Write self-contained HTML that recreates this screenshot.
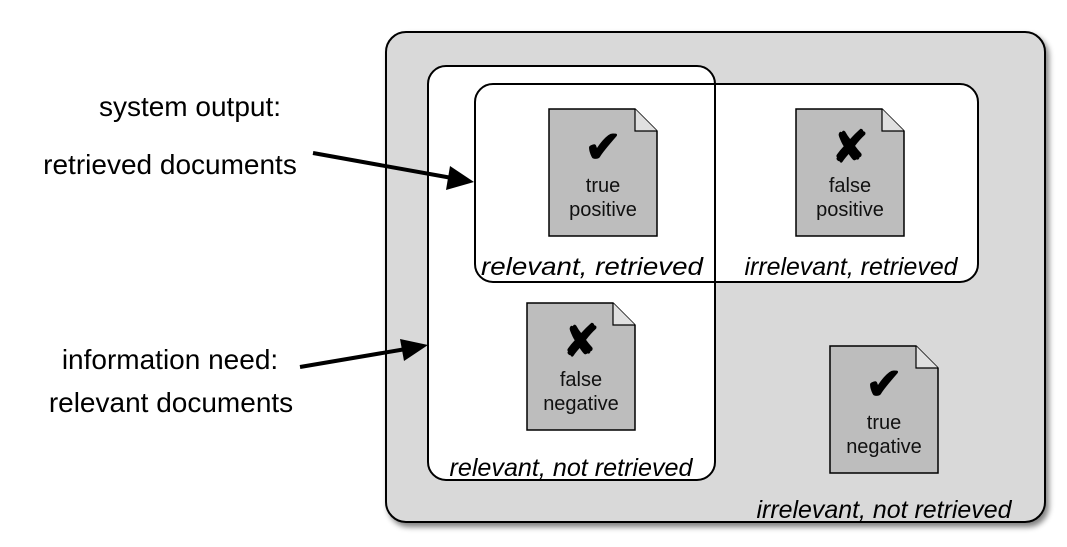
<!DOCTYPE html>
<html><head><style>
body{margin:0;width:1067px;height:542px;background:#fff;overflow:hidden}
text{font-family:"Liberation Sans",Arial,sans-serif}
</style></head><body>
<svg width="1067" height="542" viewBox="0 0 1067 542">
<defs>
<filter id="sh" x="-5%" y="-5%" width="115%" height="115%"><feGaussianBlur in="SourceAlpha" stdDeviation="3"/><feOffset dx="3" dy="4"/><feComponentTransfer><feFuncA type="linear" slope="0.5"/></feComponentTransfer><feMerge><feMergeNode/><feMergeNode in="SourceGraphic"/></feMerge></filter>
<g id="doc">
<path d="M0,0 H86 L108,22 V127 H0Z" fill="#bdbdbd" stroke="#000" stroke-width="1.5"/>
<path d="M86,0 V22 H108" fill="#e0e0e0" stroke="#000" stroke-width="1.2"/>
</g>
</defs>
<rect x="386" y="32" width="659" height="490" rx="20" fill="#d9d9d9" stroke="#000" stroke-width="2" filter="url(#sh)"/>
<rect x="428" y="66" width="287" height="414" rx="18" fill="#fff" stroke="#000" stroke-width="2"/>
<rect x="475" y="84" width="503" height="198" rx="18" fill="#fff" stroke="#000" stroke-width="2"/>
<line x1="715" y1="84" x2="715" y2="282" stroke="#000" stroke-width="2"/>
<use href="#doc" x="549" y="109"/>
<use href="#doc" x="796" y="109"/>
<use href="#doc" x="527" y="303"/>
<use href="#doc" x="830" y="346"/>
<g font-size="20" text-anchor="middle" fill="#111">
<text x="603" y="192">true</text><text x="603" y="216">positive</text>
<text x="850" y="192">false</text><text x="850" y="216">positive</text>
<text x="581" y="386">false</text><text x="581" y="410">negative</text>
<text x="884" y="429">true</text><text x="884" y="453">negative</text>
</g>
<g font-size="44" text-anchor="middle" font-weight="bold">
<text x="603" y="162">✔</text>
<text x="850" y="162">✘</text>
<text x="581" y="356">✘</text>
<text x="884" y="399">✔</text>
</g>
<g font-size="25" font-style="italic" text-anchor="middle" fill="#000">
<text x="592" y="275" textLength="222" lengthAdjust="spacingAndGlyphs">relevant, retrieved</text>
<text x="851" y="275" textLength="213" lengthAdjust="spacingAndGlyphs">irrelevant, retrieved</text>
<text x="571" y="476" textLength="243" lengthAdjust="spacingAndGlyphs">relevant, not retrieved</text>
<text x="884" y="518" textLength="255" lengthAdjust="spacingAndGlyphs">irrelevant, not retrieved</text>
</g>
<g font-size="28" text-anchor="middle" fill="#000">
<text x="190" y="116">system output:</text>
<text x="170" y="174">retrieved documents</text>
<text x="170" y="369">information need:</text>
<text x="171" y="412">relevant documents</text>
</g>
<line x1="313" y1="153" x2="452" y2="178" stroke="#000" stroke-width="4"/>
<polygon points="474,182 446,190 450,166" fill="#000"/>
<line x1="300" y1="367" x2="406" y2="349" stroke="#000" stroke-width="4"/>
<polygon points="428,345 404,361 400,339" fill="#000"/>
</svg>
</body></html>
